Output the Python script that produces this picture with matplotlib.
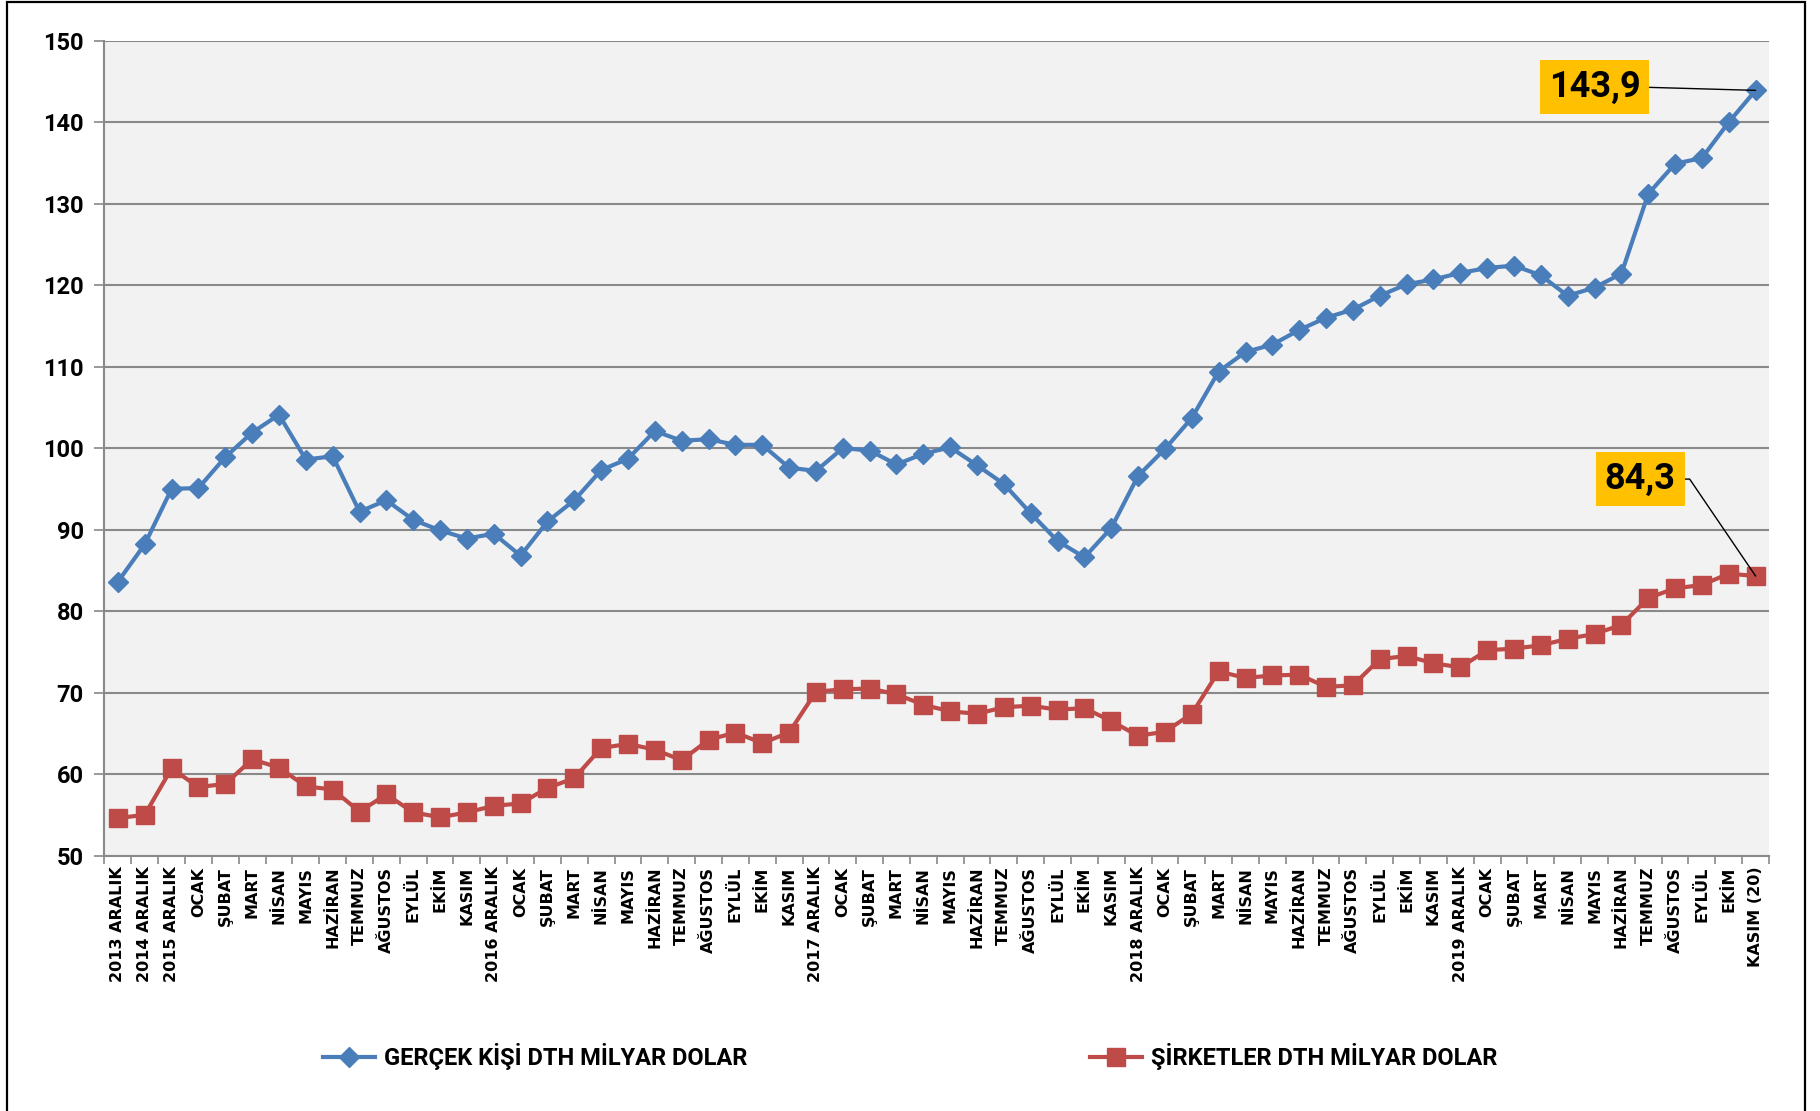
import matplotlib

matplotlib.use("Agg")
import matplotlib.pyplot as plt
from matplotlib.lines import Line2D
from matplotlib.patches import Rectangle

# category labels (Dec 2013 .. Nov 2020)
months = ["OCAK", "ŞUBAT", "MART", "NİSAN", "MAYIS", "HAZİRAN", "TEMMUZ",
          "AĞUSTOS", "EYLÜL", "EKİM", "KASIM"]
labels = ["2013 ARALIK", "2014 ARALIK", "2015 ARALIK"] + months \
    + ["2016 ARALIK"] + months + ["2017 ARALIK"] + months \
    + ["2018 ARALIK"] + months + ["2019 ARALIK"] + months[:-1] + ["KASIM (20)"]

gercek = [83.6, 88.2, 95.0, 95.1, 98.9, 101.9, 104.1, 98.6, 99.0, 92.2,
          93.6, 91.2, 89.9, 88.9, 89.5, 86.8, 91.0, 93.6, 97.3, 98.7,
          102.1, 100.9, 101.1, 100.4, 100.4, 97.6, 97.2, 100.0, 99.7, 98.0,
          99.3, 100.1, 97.9, 95.6, 92.0, 88.6, 86.6, 90.2, 96.6, 99.9,
          103.7, 109.4, 111.8, 112.7, 114.5, 116.0, 117.0, 118.7, 120.1, 120.7,
          121.5, 122.1, 122.4, 121.2, 118.7, 119.7, 121.4, 131.2, 134.9, 135.6,
          140.0, 143.9]
sirket = [54.6, 55.0, 60.7, 58.4, 58.8, 61.8, 60.8, 58.5, 58.1, 55.4,
          57.5, 55.3, 54.7, 55.3, 56.1, 56.4, 58.3, 59.5, 63.2, 63.7,
          63.0, 61.7, 64.2, 65.1, 63.8, 65.1, 70.1, 70.4, 70.5, 69.8,
          68.5, 67.7, 67.4, 68.2, 68.4, 67.9, 68.1, 66.5, 64.7, 65.2,
          67.4, 72.6, 71.8, 72.1, 72.2, 70.7, 70.9, 74.1, 74.5, 73.6,
          73.1, 75.2, 75.4, 75.8, 76.6, 77.2, 78.3, 81.6, 82.8, 83.2,
          84.6, 84.3]

names = ["GERÇEK KİŞİ DTH MİLYAR DOLAR", "ŞİRKETLER DTH MİLYAR DOLAR"]
BLUE, RED = "#4A7EBB", "#BE4B48"
GRID = "#898989"

NARROW = ["Roboto", "DejaVu Sans"]

fig = plt.figure(figsize=(18.2, 11.11), dpi=100)
ax = fig.add_axes([0.0574, 0.2299, 0.972 - 0.0574, 0.9634 - 0.2299])
ax.set_facecolor("#F2F2F2")

x = list(range(len(labels)))
ax.plot(x, gercek, color=BLUE, lw=3, marker="D", ms=10.5, mec=BLUE, zorder=3)
ax.plot(x, sirket, color=RED, lw=3, marker="s", ms=13, mec=RED, zorder=3)

ax.set_xlim(-0.5, len(labels) - 0.5)
ax.set_ylim(50, 150)
ax.set_yticks(range(50, 151, 10))
ax.yaxis.grid(True, color=GRID, lw=1.5)
ax.set_axisbelow(True)

for s in ["top", "right"]:
    ax.spines[s].set_visible(False)
for s in ["left", "bottom"]:
    ax.spines[s].set_color(GRID)
    ax.spines[s].set_linewidth(1.5)

ax.set_xticks(x)
ax.set_xticklabels(labels, rotation=90, fontsize=11.5, fontweight="bold",
                   family="DejaVu Sans")
ax.set_xticks([i - 0.5 for i in range(len(labels) + 1)], minor=True)
ax.tick_params(axis="x", which="major", length=0, pad=8)
ax.tick_params(axis="x", which="minor", length=6, color=GRID, width=1.2)
ax.tick_params(axis="y", length=7, color=GRID, width=1.2, pad=8)
for t in ax.get_yticklabels():
    t.set_family(NARROW)
    t.set_fontweight("bold")
    t.set_fontsize(17)

box = dict(boxstyle="square,pad=0.25", fc="#FFC000", ec="none")
ax.annotate("143,9", xy=(61, gercek[-1]), xytext=(55.0, 144.3),
            ha="center", va="center", fontsize=26, fontweight="bold", family=NARROW,
            bbox=box,
            arrowprops=dict(arrowstyle="-", color="black", lw=1, shrinkA=0, shrinkB=0,
                            relpos=(1, 0.5)))
ax.annotate("84,3", xy=(61, sirket[-1]), xytext=(56.7, 96.2),
            ha="center", va="center", fontsize=26, fontweight="bold", family=NARROW,
            bbox=box,
            arrowprops=dict(arrowstyle="-", color="black", lw=1, shrinkA=0, shrinkB=0,
                            relpos=(1, 0.5),
                            connectionstyle="arc,angleA=0,armA=14,angleB=0,armB=0,rad=0"))

handles = [Line2D([], [], color=BLUE, lw=3, marker="D", ms=10.5, mec=BLUE),
           Line2D([], [], color=RED, lw=3, marker="s", ms=13, mec=RED)]
fig.legend(handles, names, loc="center", bbox_to_anchor=(0.5, 0.049), ncol=2,
           frameon=False, handlelength=2.2, handletextpad=0.4, columnspacing=14.5,
           prop=dict(family=NARROW, weight="bold", size=17))

fig.patches.append(Rectangle((0.004, -0.01), 0.988, 1.008, transform=fig.transFigure,
                             fill=False, ec="black", lw=1.6))

fig.savefig("out.png", dpi=100)
